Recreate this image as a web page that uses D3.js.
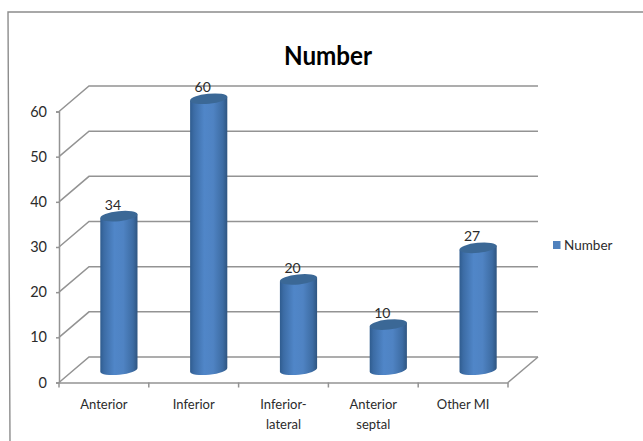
<!DOCTYPE html>
<html>
<head>
<meta charset="utf-8">
<script src="https://cdn.jsdelivr.net/npm/d3@7/dist/d3.min.js"></script>
<style>
html,body{margin:0;padding:0;background:#fff;}
svg{display:block;}
text{font-family:Lato,sans-serif;fill:#2b2b2b;}
</style>
</head>
<body>
<svg id="chart" width="643" height="441"></svg>
<script>
// Chart values
const categories = ["Anterior", "Inferior", "Inferior-\nlateral", "Anterior\nseptal", "Other MI"];
const seriesValues = [34, 60, 20, 10, 27];
const yTicks = [0, 10, 20, 30, 40, 50, 60];
const seriesName = "Number";

const svg = d3.select("#chart");

// Front plane of the pseudo-3D plot and the offset to its back wall
const x = d3.scaleBand().domain(categories).range([59, 508]);
const y = d3.scaleLinear().domain([0, 60]).range([382.5, 111.5]);
const depthX = 30, depthY = -25.5;

const gridColor = "#939393";
const lineWidth = 1.5;

// Outer frame, open on the right and bottom
svg.append("path")
  .attr("d", d3.line()([[643, 12], [8, 12], [10, 441]]))
  .attr("fill", "none").attr("stroke", "#8c8c8c").attr("stroke-width", 1.4);

// Title
svg.append("text").attr("x", 328).attr("y", 65)
  .attr("text-anchor", "middle")
  .attr("font-size", 27).attr("font-weight", 700)
  .attr("textLength", 88).attr("lengthAdjust", "spacingAndGlyphs")
  .style("fill", "#000").text(seriesName);

// Back wall gridlines with the slanted side-wall segments
const [x0, x1] = x.range();
const grid = svg.append("g").attr("fill", "none").attr("stroke", gridColor).attr("stroke-width", lineWidth);
grid.selectAll("path").data(yTicks).join("path")
  .attr("d", t => d3.line()([[x0, y(t)], [x0 + depthX, y(t) + depthY], [x1 + depthX, y(t) + depthY]]));
// Floor's right edge
grid.append("path").attr("d", d3.line()([[x1, y(0)], [x1 + depthX, y(0) + depthY]]));

// Axes
const yAxis = svg.append("g").attr("transform", `translate(${x0},0)`)
  .call(d3.axisLeft(y).tickValues(yTicks).tickSize(3).tickPadding(9));
const xAxis = svg.append("g").attr("transform", `translate(0,${y(0)})`)
  .call(d3.axisBottom(x).tickSize(0).tickFormat(""));
[yAxis, xAxis].forEach(a => {
  a.selectAll(".domain").attr("stroke", gridColor).attr("stroke-width", lineWidth);
  a.selectAll(".tick line").attr("stroke", gridColor).attr("stroke-width", lineWidth);
});
yAxis.selectAll("text").attr("font-size", 14.5).attr("font-family", "Lato,sans-serif").style("fill", "#2b2b2b");

// Tick marks on the category boundaries
svg.append("g").selectAll("line")
  .data(categories.map(c => x(c)).concat([x1]))
  .join("line")
  .attr("x1", d => d).attr("x2", d => d)
  .attr("y1", y(0)).attr("y2", y(0) + 5)
  .attr("stroke", gridColor).attr("stroke-width", lineWidth);

// Category labels, wrapped on the newline
const catLabels = svg.append("g").selectAll("text").data(categories).join("text")
  .attr("text-anchor", "middle").attr("font-size", 13);
catLabels.each(function (c) {
  const t = d3.select(this);
  c.split("\n").forEach((line, i) => {
    t.append("tspan")
      .attr("x", x(c) + x.bandwidth() / 2)
      .attr("y", 409 + i * 19.5)
      .text(line);
  });
});

// Cylinder shading
const defs = svg.append("defs");
const grad = defs.append("linearGradient").attr("id", "cyl");
[[0, "#2f5c8f"], [0.1, "#3c6ca5"], [0.38, "#5086c8"], [0.62, "#4f83c3"], [0.88, "#3d6ca3"], [1, "#2f5580"]]
  .forEach(([o, c]) => grad.append("stop").attr("offset", o).attr("stop-color", c));

// Cylinders stand halfway between the front plane and the back wall
const rx = 18.7, ry = 5, tilt = -6;
const tiltRad = tilt * Math.PI / 180;
const bars = svg.append("g").selectAll("g")
  .data(categories.map((c, i) => ({ c, v: seriesValues[i] })))
  .join("g")
  .attr("transform", d => `translate(${x(d.c) + x.bandwidth() / 2 + depthX / 2},${depthY / 2})`);

bars.append("path")
  .attr("fill", "url(#cyl)")
  .attr("d", d => {
    const top = y(d.v), bot = y(0);
    const dx = rx * Math.cos(tiltRad), dy = rx * Math.sin(tiltRad);
    return `M${-dx},${top - dy}` +
           `L${-dx},${bot - dy}` +
           `A${rx},${ry} ${tilt} 0 0 ${dx},${bot + dy}` +
           `L${dx},${top + dy}Z`;
  });

bars.append("ellipse")
  .attr("rx", rx).attr("ry", ry)
  .attr("fill", "#3b6896")
  .attr("transform", d => `translate(0,${y(d.v)}) rotate(${tilt})`);

// Value labels above each cylinder
bars.append("text")
  .attr("text-anchor", "middle").attr("font-size", 14)
  .attr("x", -6)
  .attr("y", d => y(d.v) - 6.5)
  .text(d => d.v);

// Legend
svg.append("rect").attr("x", 553).attr("y", 241).attr("width", 7.5).attr("height", 8).attr("fill", "#4f81bd");
svg.append("text").attr("x", 564).attr("y", 250).attr("font-size", 13.5).text(seriesName);
</script>
</body>
</html>
